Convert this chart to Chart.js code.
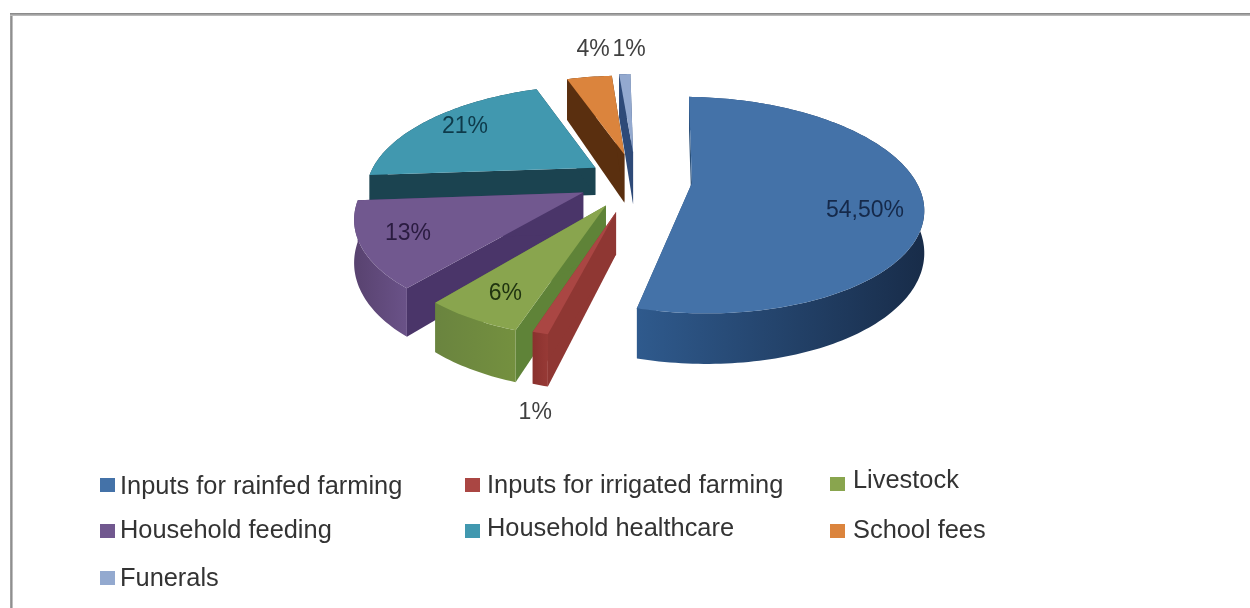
<!DOCTYPE html>
<html>
<head>
<meta charset="utf-8">
<style>
html,body{margin:0;padding:0;background:#fff;width:1250px;height:608px;overflow:hidden}
#wrap{position:absolute;left:0;top:0;width:1250px;height:608px}
#t{position:absolute;left:10px;top:13px;width:1240px;height:3px;background:linear-gradient(#7f7f7f,#c4c4c4)}
#l{position:absolute;left:10px;top:16px;width:3px;height:592px;background:linear-gradient(90deg,#a8a8a8,#8f8f8f,#d8d8d8)}
#c{position:absolute;left:0;top:0}
</style>
</head>
<body>
<div id="wrap"><div id="t"></div><div id="l"></div><canvas id="c" width="1250" height="608"></canvas></div>
<script src="https://cdn.jsdelivr.net/npm/chart.js@4"></script>
<script>
const categories = ["Inputs for rainfed farming","Inputs for irrigated farming","Livestock","Household feeding","Household healthcare","School fees","Funerals"];
const shares = [54.5,1,6,13,21,4,1];
const shareLabels = ["54,50%","1%","6%","13%","21%","4%","1%"];
const topColors = ["#4472a8","#aa4643","#89a54e","#71588f","#4198af","#db843d","#93a9cf"];
const wallColors = ["#2b5078","#8f3733","#5f8338","#4a3569","#1b4350","#5a2f0f","#2e4a78"];
const rimStart = ["#2f5a8d","#973a36","#74903f","#6a5288","#1b4350","#5a2f0f","#2e4a78"];
const rimEnd = ["#182c49","#8a312e","#6a843f","#58426f","#1b4350","#5a2f0f","#2e4a78"];
const labelColors = ["#15294a","#404040","#1f3310","#2a1b40","#0e3a4a","#404040","#404040"];
const explode = [28,34,30,29,25,30,32];
const sliceScale = [0.98,0.87,0.92,0.95,1,1,1];
const sliceDepth = [40,40,40,40,28,51,55];
const trimStart = [3,0,0,0,0,0,0];
const trimEnd = [0,0,0,0,1.5,0,0];
const labelRadius = [0.745,1.255,0.737,0.761,0.792,1.43,1.39];
const labelAngle = [12.5,-5.9,-0.9,0.6,0.7,3.7,1.7];
const paintOrder = [6,5,4,3,0,2,1];

const TILT = 0.207, YS = 0.918, XS = 2;
const legendSlots = [[100,485,120,487],[465,485,487,486],[830,484,853,481],[100,531,120,531],[465,531,487,529],[830,531,853,531],[100,578,120,579]];

function project(arc,u,v,h){
  const R = arc.outerRadius, w = 1 - TILT*v;
  return [arc.x + XS*R*u/w, arc.y + (YS*R*v + (h||0))/w];
}
const DEG = Math.PI/180;
const pie3d = {
  id:'pie3d',
  beforeDatasetsDraw(chart){
    const ctx = chart.ctx, arcs = chart.getDatasetMeta(0).data;
    paintOrder.forEach(i=>{
      const a = arcs[i], R = a.outerRadius;
      const mid = (a.startAngle+a.endAngle)/2, d = a.options.offset/R;
      const ox = Math.cos(mid)*d, oy = Math.sin(mid)*d;
      const s0 = a.startAngle+trimStart[i]*DEG, s1 = a.endAngle-trimEnd[i]*DEG;
      const n = Math.max(2,Math.ceil((s1-s0)/0.02));
      const top=[], bot=[], k0=sliceScale[i], h=sliceDepth[i];
      for(let k=0;k<=n;k++){
        const t = s0+(s1-s0)*k/n;
        const u = ox+k0*Math.cos(t), v = oy+k0*Math.sin(t);
        top.push(project(a,u,v,0)); bot.push(project(a,u,v,h));
      }
      const c0 = project(a,ox,oy,0), c1 = project(a,ox,oy,h);
      const fill=(pts,col)=>{ctx.beginPath();pts.forEach((p,j)=>j?ctx.lineTo(p[0],p[1]):ctx.moveTo(p[0],p[1]));ctx.closePath();ctx.fillStyle=col;ctx.fill();};
      fill([c0,top[0],bot[0],c1],wallColors[i]);
      fill([c0,top[n],bot[n],c1],wallColors[i]);
      const xs = top.map(p=>p[0]);
      const g = ctx.createLinearGradient(Math.min(...xs),0,Math.max(...xs),0);
      const flip = i===0;
      g.addColorStop(0,flip?rimStart[i]:rimEnd[i]);
      g.addColorStop(1,flip?rimEnd[i]:rimStart[i]);
      fill(top.concat(bot.slice().reverse()),g);
      fill([c0].concat(top),a.options.backgroundColor);
    });
    ctx.save();
    ctx.font = '23px "Liberation Sans"';
    ctx.textAlign='center'; ctx.textBaseline='middle';
    arcs.forEach((a,i)=>{
      const mid=(a.startAngle+a.endAngle)/2, d=a.options.offset/a.outerRadius;
      const t = mid + labelAngle[i]*DEG;
      const u = Math.cos(mid)*d+Math.cos(t)*labelRadius[i];
      const v = Math.sin(mid)*d+Math.sin(t)*labelRadius[i];
      const p = project(a,u,v,0);
      ctx.fillStyle = labelColors[i];
      ctx.fillText(shareLabels[i],p[0],p[1]);
    });
    ctx.restore();
    ctx.save();
    ctx.font='25.4px "Liberation Sans"';
    ctx.textAlign='left'; ctx.textBaseline='middle';
    categories.forEach((c,i)=>{
      const s = legendSlots[i];
      ctx.fillStyle=topColors[i]; ctx.fillRect(s[0],s[1]-7,15,14);
      ctx.fillStyle='#333'; ctx.fillText(c,s[2],s[3]);
    });
    ctx.restore();
    return false;
  }
};
new Chart(document.getElementById('c'),{
  type:'pie',
  data:{labels:categories,datasets:[{data:shares,backgroundColor:topColors,offset:explode,borderWidth:0}]},
  plugins:[pie3d],
  options:{
    responsive:false,animation:false,rotation:-1,radius:114,
    layout:{padding:{left:22,right:0,top:0,bottom:248}},
    plugins:{legend:{display:false},tooltip:{enabled:false}}
  }
});
</script>
</body>
</html>
